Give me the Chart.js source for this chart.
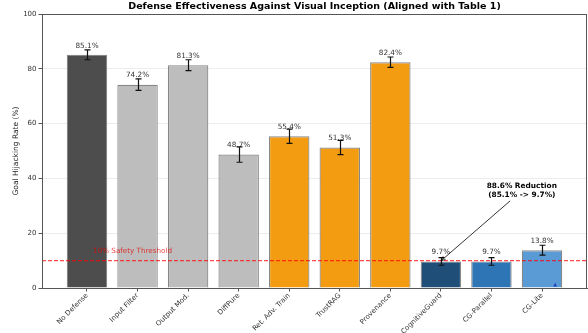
<!DOCTYPE html>
<html>
<head>
<meta charset="utf-8">
<script src="https://cdn.jsdelivr.net/npm/chart.js@4/dist/chart.umd.min.js"></script>
<style>
  html, body { margin: 0; padding: 0; background: #ffffff; }
  #wrap { width: 588px; height: 333px; }
</style>
</head>
<body>
<div id="wrap"><canvas id="c" width="588" height="333"></canvas></div>
<script>
const categories = ['No Defense', 'Input Filter', 'Output Mod.', 'DiffPure', 'Ret. Adv. Train', 'TrustRAG', 'Provenance', 'CognitiveGuard', 'CG-Parallel', 'CG-Lite'];
const hijackRate = [85.1, 74.2, 81.3, 48.7, 55.4, 51.3, 82.4, 9.7, 9.7, 13.8];
const errorStd = [1.8, 2.1, 2.0, 2.8, 2.6, 2.6, 1.9, 1.4, 1.4, 1.8];
const barColors = ['#4d4d4d', '#bdbdbd', '#bdbdbd', '#bdbdbd', '#f39c12', '#f39c12', '#f39c12', '#1f4e79', '#2e75b6', '#5b9bd5'];
const yTicks = [0, 20, 40, 60, 80, 100];
const threshold = 10;
const thresholdLabel = '10% Safety Threshold';
const titleText = 'Defense Effectiveness Against Visual Inception (Aligned with Table 1)';
const yTitle = 'Goal Hijacking Rate (%)';
const annotLines = ['88.6% Reduction', '(85.1% -> 9.7%)'];
const annotText = { x: 8.6, y: 35.6 };
const annotArrowFrom = { x: 8.37, y: 31.8 };
const annotArrowTo = { x: 7.0, y: 9.9 };
const thresholdTextPos = { x: 0.12, y: 12 };
const markerPos = { x: 9.26, y: 0.9 };

const FONT = "'DejaVu Sans', 'Liberation Sans', sans-serif";

const overlayPlugin = {
  id: 'overlay',
  afterDatasetsDraw(chart) {
    const ctx = chart.ctx;
    const xs = chart.scales.x, ys = chart.scales.y;
    const ca = chart.chartArea;
    ctx.save();
    // value labels
    ctx.font = '7.3px ' + FONT;
    ctx.fillStyle = '#333';
    ctx.textAlign = 'center';
    ctx.textBaseline = 'bottom';
    hijackRate.forEach((v, i) => {
      ctx.fillText(v.toFixed(1) + '%', xs.getPixelForValue(i), ys.getPixelForValue(v + 2));
    });
    // error bars
    ctx.strokeStyle = '#111';
    ctx.lineWidth = 1.2;
    hijackRate.forEach((v, i) => {
      const x = Math.round(xs.getPixelForValue(i)) + 0.5;
      const yt = ys.getPixelForValue(v + errorStd[i]);
      const yb = ys.getPixelForValue(v - errorStd[i]);
      ctx.beginPath();
      ctx.moveTo(x, yt); ctx.lineTo(x, yb);
      ctx.moveTo(x - 3, yt); ctx.lineTo(x + 3, yt);
      ctx.moveTo(x - 3, yb); ctx.lineTo(x + 3, yb);
      ctx.stroke();
    });
    // threshold line
    const ty = ys.getPixelForValue(threshold);
    ctx.strokeStyle = 'rgba(255,0,0,0.7)';
    ctx.lineWidth = 1.2;
    ctx.setLineDash([4, 2]);
    ctx.beginPath();
    ctx.moveTo(ca.left, ty); ctx.lineTo(ca.right, ty);
    ctx.stroke();
    ctx.setLineDash([]);
    ctx.fillStyle = 'rgba(230,0,0,0.75)';
    ctx.font = '7.2px ' + FONT;
    ctx.textAlign = 'left';
    ctx.textBaseline = 'bottom';
    ctx.fillText(thresholdLabel, xs.getPixelForValue(thresholdTextPos.x), ys.getPixelForValue(thresholdTextPos.y));
    // small marker
    const mx = xs.getPixelForValue(markerPos.x), my = ys.getPixelForValue(markerPos.y);
    ctx.fillStyle = '#1f3fbf';
    ctx.beginPath();
    ctx.moveTo(mx, my - 3); ctx.lineTo(mx + 1.8, my + 1); ctx.lineTo(mx - 1.8, my + 1); ctx.closePath();
    ctx.fill();
    // annotation
    ctx.fillStyle = '#000';
    ctx.font = 'bold 7.4px ' + FONT;
    ctx.textAlign = 'center';
    ctx.textBaseline = 'middle';
    const ax = xs.getPixelForValue(annotText.x), ay = ys.getPixelForValue(annotText.y);
    ctx.fillText(annotLines[0], ax, ay - 4.8);
    ctx.fillText(annotLines[1], ax, ay + 4.8);
    const x1 = xs.getPixelForValue(annotArrowFrom.x), y1 = ys.getPixelForValue(annotArrowFrom.y);
    const x2 = xs.getPixelForValue(annotArrowTo.x), y2 = ys.getPixelForValue(annotArrowTo.y);
    ctx.strokeStyle = '#000';
    ctx.lineWidth = 0.8;
    ctx.beginPath();
    ctx.moveTo(x1, y1); ctx.lineTo(x2, y2);
    const ang = Math.atan2(y2 - y1, x2 - x1);
    const hl = 5;
    ctx.moveTo(x2, y2); ctx.lineTo(x2 - hl * Math.cos(ang - 0.4), y2 - hl * Math.sin(ang - 0.4));
    ctx.moveTo(x2, y2); ctx.lineTo(x2 - hl * Math.cos(ang + 0.4), y2 - hl * Math.sin(ang + 0.4));
    ctx.stroke();
    ctx.restore();
  },
  afterDraw(chart) {
    const ctx = chart.ctx;
    const ca = chart.chartArea;
    ctx.save();
    ctx.strokeStyle = '#555';
    ctx.lineWidth = 1;
    ctx.strokeRect(ca.left + 0.5, ca.top + 0.5, ca.right - ca.left - 1, ca.bottom - ca.top);
    ctx.fillStyle = '#000';
    ctx.font = 'bold 9.5px ' + FONT;
    ctx.textAlign = 'center';
    ctx.textBaseline = 'middle';
    ctx.fillText(titleText, (ca.left + ca.right) / 2, 7);
    ctx.restore();
  }
};

new Chart(document.getElementById('c'), {
  type: 'bar',
  data: {
    datasets: [{
      data: hijackRate.map((v, i) => ({ x: i, y: v })),
      backgroundColor: barColors,
      borderColor: 'rgba(105,105,105,0.8)',
      borderWidth: 1.2,
      barPercentage: 0.8,
      categoryPercentage: 1.0
    }]
  },
  options: {
    responsive: false,
    devicePixelRatio: 1,
    animation: false,
    layout: { padding: { left: 0, right: 1, top: 14, bottom: 0 } },
    plugins: { legend: { display: false }, title: { display: false }, tooltip: { enabled: false } },
    scales: {
      x: {
        type: 'linear',
        offset: false,
        min: -0.89,
        max: 9.89,
        afterBuildTicks: (s) => { s.ticks = categories.map((c, i) => ({ value: i })); },
        afterFit: (s) => { s.height = 45; },
        ticks: {
          autoSkip: false,
          minRotation: 45,
          maxRotation: 45,
          padding: 0,
          color: '#333',
          font: { family: FONT, size: 7 },
          callback: (v) => categories[v]
        },
        grid: { offset: false, drawOnChartArea: false, drawTicks: true, tickLength: 3.5, tickColor: '#555' },
        border: { color: '#555', width: 1 }
      },
      y: {
        min: 0,
        max: 100,
        afterBuildTicks: (s) => { s.ticks = yTicks.map(v => ({ value: v })); },
        afterFit: (s) => { s.width = 42; },
        ticks: { color: '#333', padding: 2, font: { family: FONT, size: 7 } },
        grid: { color: 'rgba(0,0,0,0.07)', tickLength: 3.5, tickColor: '#555' },
        border: { color: '#555', width: 1 },
        title: { display: true, text: yTitle, color: '#222', padding: { top: 12, bottom: 0 }, font: { family: FONT, size: 7.5 } }
      }
    }
  },
  plugins: [overlayPlugin]
});
</script>
</body>
</html>
